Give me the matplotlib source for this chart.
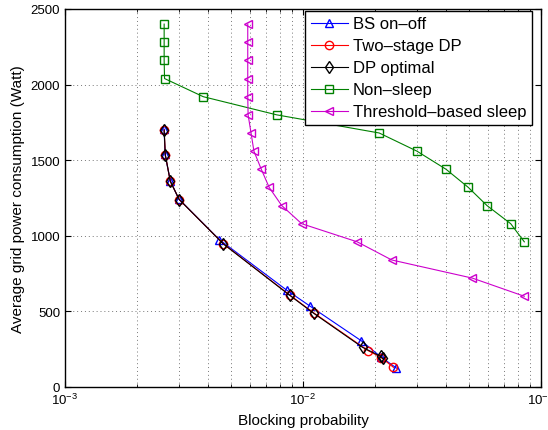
import matplotlib
matplotlib.use("Agg")
import matplotlib.pyplot as plt
from matplotlib.ticker import LogLocator, MultipleLocator

plt.rcParams['font.family'] = ['Liberation Sans', 'DejaVu Sans']

# BS on-off
bs_x = [0.00261, 0.00263, 0.00277, 0.00300, 0.00445, 0.00855, 0.0107, 0.0176, 0.0212, 0.0247]
bs_y = [1705, 1540, 1365, 1245, 975, 640, 535, 305, 200, 125]

# Two-stage DP
ts_x = [0.00261, 0.00264, 0.00277, 0.00302, 0.00462, 0.0088, 0.0111, 0.0188, 0.0213, 0.0240]
ts_y = [1700, 1535, 1360, 1240, 948, 608, 490, 240, 195, 130]

# DP optimal
dp_x = [0.00261, 0.00264, 0.00277, 0.00302, 0.00463, 0.0088, 0.0111, 0.0178, 0.0212, 0.0216]
dp_y = [1700, 1535, 1360, 1240, 946, 606, 487, 262, 203, 189]

# Non-sleep
ns_x = [0.00261, 0.00261, 0.00261, 0.00262, 0.00381, 0.00775, 0.0209, 0.0301,
        0.0399, 0.0495, 0.0593, 0.0746, 0.0851]
ns_y = [2400, 2280, 2160, 2040, 1920, 1800, 1680, 1560, 1440, 1320, 1200, 1080, 960]

# Threshold-based sleep
th_x = [0.00586, 0.00586, 0.00586, 0.00586, 0.00586, 0.00588, 0.00605, 0.00622,
        0.00668, 0.00721, 0.00814, 0.00987, 0.0169, 0.0236, 0.0515, 0.0851]
th_y = [2400, 2280, 2160, 2040, 1920, 1800, 1680, 1560, 1440, 1320, 1200, 1080,
        960, 840, 720, 600]

fig = plt.figure(figsize=(5.48, 4.31), dpi=100)
ax = fig.add_axes([0.1186, 0.0998, 0.8686, 0.877])

ms = 6
lw = 0.8
ax.plot(bs_x, bs_y, color='blue', marker='^', mfc='none', ms=ms, lw=lw, label='BS on–off')
ax.plot(ts_x, ts_y, color='red', marker='o', mfc='none', ms=ms, lw=lw, label='Two–stage DP')
ax.plot(dp_x, dp_y, color='black', marker='d', mfc='none', ms=ms, lw=lw, label='DP optimal')
ax.plot(ns_x, ns_y, color='#008000', marker='s', mfc='none', ms=ms, lw=lw, label='Non–sleep')
ax.plot(th_x, th_y, color='#cc00cc', marker='<', mfc='none', ms=ms, lw=lw, label='Threshold–based sleep')

ax.set_xscale('log')
ax.set_xlim(1e-3, 1e-1)
ax.set_ylim(0, 2500)
ax.yaxis.set_major_locator(MultipleLocator(500))
ax.xaxis.set_minor_locator(LogLocator(base=10, subs=range(2, 10)))

# dotted grid, light like the original
ax.grid(True, which='major', linestyle=(0, (1, 3)), color='#777777', lw=0.7)
ax.grid(True, which='minor', axis='x', linestyle=(0, (1, 3)), color='#777777', lw=0.7)

ax.tick_params(which='both', direction='in', top=True, right=True, labelsize=9.5)
ax.tick_params(which='major', length=4)
ax.tick_params(which='minor', length=2)
for s in ax.spines.values():
    s.set_linewidth(1.0)

ax.set_xlabel('Blocking probability', fontsize=11)
ax.set_ylabel('Average grid power consumption (Watt)', fontsize=11)

leg = ax.legend(loc='upper right', bbox_to_anchor=(0.981, 0.996), borderaxespad=0,
                fontsize=12, fancybox=False, framealpha=1, edgecolor='black',
                handlelength=2.2, handletextpad=0.3, labelspacing=0.42, borderpad=0.35)
leg.get_frame().set_linewidth(1.0)

fig.savefig('out.png', dpi=100)
